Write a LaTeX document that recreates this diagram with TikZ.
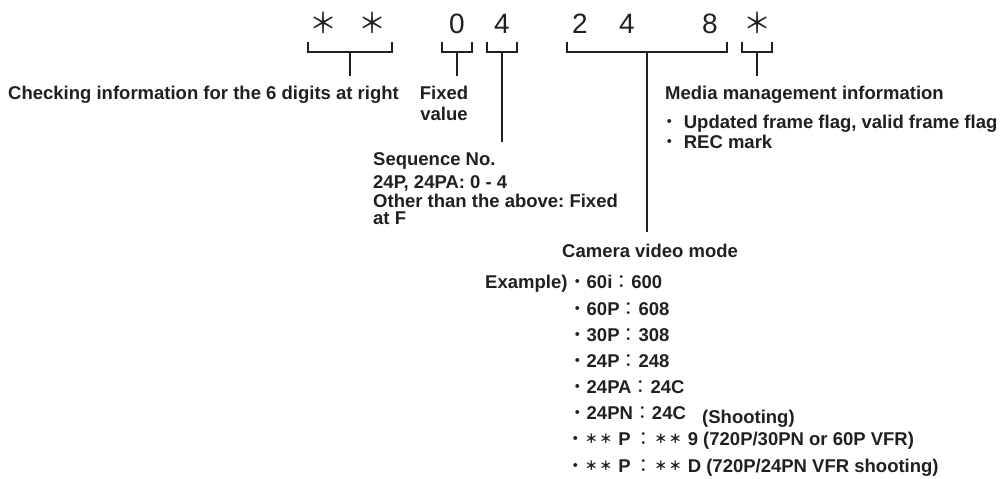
\documentclass[tikz,border=0pt]{standalone}
\usepackage{fontspec}
\setmainfont{Liberation Sans}
\newfontfamily\cjk{Noto Sans CJK JP}
\definecolor{ink}{HTML}{231F20}
\frenchspacing
\tikzset{
  digit/.style={inner sep=0pt, anchor=base, text=ink, font=\fontsize{28}{30}\selectfont},
  lab/.style={inner sep=0pt, anchor=base west, text=ink, font=\fontsize{18.5}{22}\selectfont\bfseries\frenchspacing},
  labc/.style={inner sep=0pt, anchor=base, text=ink, font=\fontsize{18.5}{22}\selectfont\bfseries},
  brk/.style={draw=ink, line width=1.4pt},
}
\newcommand{\bul}{{\cjk\mdseries ・}}
\newcommand{\sbul}{\makebox[16pt]{\cjk\mdseries ・}}
\newcommand{\fcol}{\makebox[19pt]{\cjk\mdseries ：}}
\newcommand{\wcol}{\hspace{3pt}\makebox[20pt]{\cjk\mdseries ：}}
\newcommand{\fast}{\makebox[14.5pt]{\raisebox{1.5pt}{\fontsize{12.5}{13}\selectfont\cjk ＊}}}
\begin{document}
\begin{tikzpicture}[x=1pt,y=-1pt]
\useasboundingbox (0,0) rectangle (1004,479);
% top characters
\node[digit] (a1) at (323,33) {{\cjk ＊}};
\node[digit] (a2) at (372,33) {{\cjk ＊}};
\node[digit] (d0) at (457,33) {0};
\node[digit] (d4) at (502,33) {4};
\node[digit] (e2) at (580,33) {2};
\node[digit] (e4) at (627,33) {4};
\node[digit] (e8) at (710,33) {8};
\node[digit] (a3) at (757,33) {{\cjk ＊}};

% labels
\node[lab] (chk) at (8,99) {Checking information for the 6 digits at right};
\node[labc] (fix) at (444,99) {Fixed};
\node[labc] (fixv) at (444,120) {value};
\node[lab] (seq) at (373,165) {Sequence No.};
\node[lab] (seq2) at (373,188) {24P, 24PA: 0 - 4};
\node[lab] (seq3) at (373,207.5) {Other than the above: Fixed};
\node[lab] (seq4) at (373,224) {at F};
\node[lab] (med) at (665,99) {Media management information};
\node[lab] (med1) at (660,128) {\bul\ Updated frame flag, valid frame flag};
\node[lab] (med2) at (660,148) {\bul\ REC mark};
\node[lab] (cam) at (562,257) {Camera video mode};
\node[lab] (ex) at (485,288) {Example)};
\node[lab] (r1) at (568,288) {\bul 60i\fcol 600};
\node[lab] (r2) at (568,315) {\bul 60P\fcol 608};
\node[lab] (r3) at (568,341) {\bul 30P\fcol 308};
\node[lab] (r4) at (568,367) {\bul 24P\fcol 248};
\node[lab] (r5) at (568,393) {\bul 24PA\fcol 24C};
\node[lab] (r6) at (568,419) {\bul 24PN\fcol 24C};
\node[lab] (r6n) at (702,423) {(Shooting)};
\node[lab] (r7) at (568,445) {\sbul\fast\fast\ P\wcol\fast\fast\ 9 (720P/30PN or 60P VFR)};
\node[lab] (r8) at (568,472) {\sbul\fast\fast\ P\wcol\fast\fast\ D (720P/24PN VFR shooting)};

% bracket coordinates
\coordinate (b1l) at (308,42); \coordinate (b1r) at (392,42); \coordinate (b1m) at (350,52); \coordinate (b1e) at (350,76);
\coordinate (b2l) at (442,42); \coordinate (b2r) at (472,42); \coordinate (b2m) at (457,52); \coordinate (b2e) at (457,76);
\coordinate (b3l) at (487,42); \coordinate (b3r) at (517,42); \coordinate (b3m) at (502,52); \coordinate (b3e) at (502,142);
\coordinate (b4l) at (567,42); \coordinate (b4r) at (727,42); \coordinate (b4m) at (647,52); \coordinate (b4e) at (647,232);
\coordinate (b5l) at (742,42); \coordinate (b5r) at (772,42); \coordinate (b5m) at (757,52); \coordinate (b5e) at (757,76);
\foreach \i in {1,...,5}{
  \draw[brk] (b\i l) -- (b\i l |- b\i m) -- (b\i r |- b\i m) -- (b\i r);
  \draw[brk] (b\i m) -- (b\i e);
}
\end{tikzpicture}
\end{document}
